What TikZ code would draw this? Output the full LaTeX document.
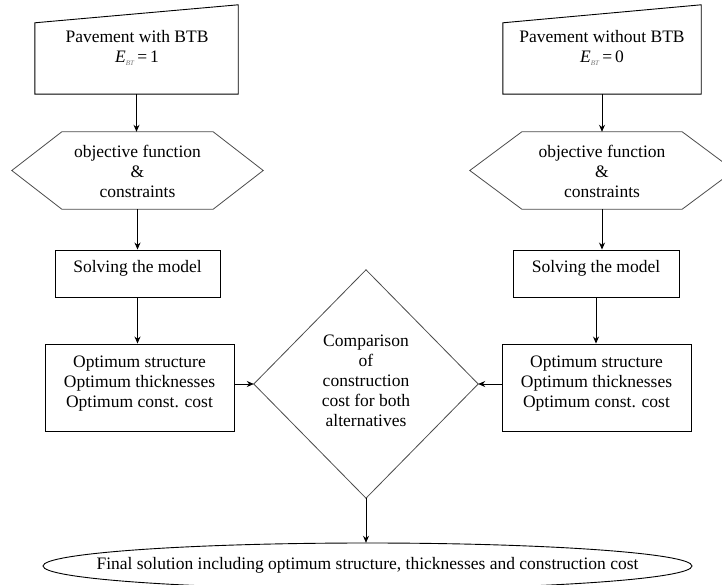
\documentclass[tikz,border=0pt]{standalone}
\usepackage{fontspec}
\setmainfont{Liberation Serif}
\usetikzlibrary{arrows.meta,calc}
\begin{document}
\begin{tikzpicture}[x=1pt,y=-1pt,
  area/.style 2 args={inner sep=0pt, minimum width=#1, minimum height=#2},
  lbl/.style={font=\fontsize{17.5}{20}\selectfont, align=center, inner sep=0pt},
  ln/.style={line width=0.9pt, draw=black},
  thinln/.style={line width=0.8pt, draw=black!70},
  arr/.style={line width=0.9pt, draw=black, -{Stealth[length=7pt,width=6pt]}},
]
\useasboundingbox (0,0) rectangle (722,585);
\fill[white] (0,0) rectangle (722,585);
\newcommand{\ebt}[1]{\textit{E}\raisebox{-3pt}{\fontsize{7}{7}\selectfont\color{black!55}\textit{BT}}\,=\,#1}

% ---------- left column ----------
\node[area={203}{89}] (inL) at (136.5,49.5) {};
\draw[ln] (inL.south west) -- (inL.south east) -- (inL.north east) -- ($(inL.north west)+(0,18)$) -- cycle;
\node[lbl] (inLt) at (137,48) {Pavement with BTB\\ \ebt{1}};

\node[area={251}{77}] (hexL) at (137.5,170.5) {};
\draw[thinln] (hexL.west) -- ($(hexL.north west)+(50,0)$) -- ($(hexL.north east)+(-50,0)$) -- (hexL.east)
  -- ($(hexL.south east)+(-50,0)$) -- ($(hexL.south west)+(50,0)$) -- cycle;
\node[lbl] (hexLt) at (137.5,171) {objective function\\ \&\\ constraints};

\node[area={165}{47}, ln] (solL) at (137.5,273.5) {};
\node[lbl] (solLt) at (137.5,268) {Solving the model};

\node[area={189}{87}, ln] (optL) at (139.5,387.5) {};
\node[lbl] (optLt) at (139.5,384) {Optimum structure\\ Optimum thicknesses\\ Optimum const. cost};

% ---------- right column ----------
\node[area={198}{89}] (inR) at (602,49.5) {};
\draw[ln] (inR.south west) -- (inR.south east) -- (inR.north east) -- ($(inR.north west)+(0,18)$) -- cycle;
\node[lbl] (inRt) at (602,48) {Pavement without BTB\\ \ebt{0}};

\node[area={264}{77}] (hexR) at (602,170.5) {};
\draw[thinln] (hexR.west) -- ($(hexR.north west)+(52,0)$) -- ($(hexR.north east)+(-52,0)$) -- (hexR.east)
  -- ($(hexR.south east)+(-52,0)$) -- ($(hexR.south west)+(52,0)$) -- cycle;
\node[lbl] (hexRt) at (602,171) {objective function\\ \&\\ constraints};

\node[area={166}{47}, ln] (solR) at (596,273.5) {};
\node[lbl] (solRt) at (596,268) {Solving the model};

\node[area={189}{87}, ln] (optR) at (596.5,387.5) {};
\node[lbl] (optRt) at (596.5,384) {Optimum structure\\ Optimum thicknesses\\ Optimum const. cost};

% ---------- centre ----------
\node[area={224}{228}] (dia) at (366,384) {};
\draw[thinln] (dia.north) -- (dia.east) -- (dia.south) -- (dia.west) -- cycle;
\node[lbl] (diat) at (366,381) {Comparison\\ of\\ construction\\ cost for both\\ alternatives};

\node[area={649}{46}] (ell) at (367.5,566) {};
\draw[ln] (ell.center) ellipse [x radius=324.5, y radius=23];
\node[lbl] (ellt) at (367.5,565) {Final solution including optimum structure, thicknesses and construction cost};

% ---------- connectors ----------
\draw[arr] (inL.south) -- (inL.south |- hexL.north);
\draw[arr] (hexL.south) -- (hexL.south |- solL.north);
\draw[arr] (solL.south) -- (solL.south |- optL.north);
\draw[arr] (inR.south) -- (inR.south |- hexR.north);
\draw[arr] (hexR.south) -- (hexR.south |- solR.north);
\draw[arr] (solR.south) -- (solR.south |- optR.north);
\draw[arr] (dia.west -| optL.east) -- (dia.west);
\draw[arr] (dia.east -| optR.west) -- (dia.east);
\draw[arr] (dia.south) -- (dia.south |- ell.north);
\end{tikzpicture}
\end{document}
